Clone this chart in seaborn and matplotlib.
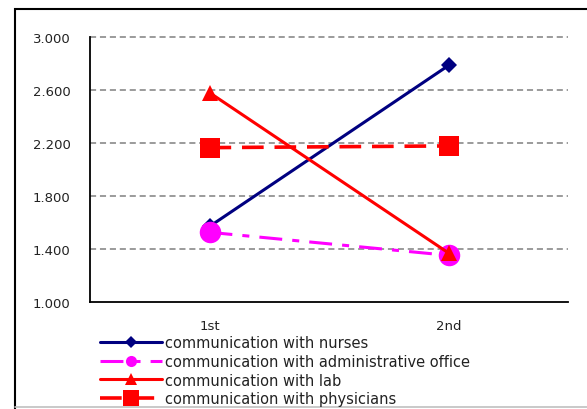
import matplotlib
matplotlib.use("Agg")
import matplotlib.pyplot as plt
import pandas as pd
import seaborn as sns
from matplotlib.lines import Line2D
from matplotlib.patches import Rectangle

# Data
rounds = ["1st", "2nd"]
nurses = [1.57, 2.785]
admin_office = [1.526, 1.352]
lab = [2.58, 1.37]
physicians = [2.165, 2.178]
series_names = [
    "communication with nurses",
    "communication with administrative office",
    "communication with lab",
    "communication with physicians",
]
y_ticks = [1.0, 1.4, 1.8, 2.2, 2.6, 3.0]
y_tick_labels = ["1.000", "1.400", "1.800", "2.200", "2.600", "3.000"]

df = pd.DataFrame({"round": rounds * 4,
                   "value": nurses + admin_office + lab + physicians,
                   "series": [s for s in series_names for _ in rounds]})

sns.set_style("white")
plt.rcParams["font.family"] = ["DejaVu Sans"]

fig = plt.figure(figsize=(5.87, 4.10), dpi=100)
ax = fig.add_axes([90 / 587, 1 - 303 / 410, 478 / 587, 265 / 410])

# colour, dashes, marker, marker size (plot), marker size (legend), line width
styles = {
    series_names[0]: ("#000080", "-", "D", 8.5, 6, 2.2),
    series_names[1]: ("#FF00FF", (0, (7.5, 3.3, 2.3, 3.3)), "o", 15.5, 8, 2.2),
    series_names[2]: ("#FF0000", "-", "^", 11, 8, 2.2),
    series_names[3]: ("#FF0000", (0, (6, 3)), "s", 15, 12, 2.6),
}

handles = []
for name in series_names:
    color, ls, mk, ms, lms, lw = styles[name]
    sub = df[df["series"] == name]
    sns.lineplot(data=sub, x="round", y="value", ax=ax, color=color,
                 linestyle=ls, marker=mk, markersize=ms, linewidth=lw,
                 markeredgewidth=0, legend=False, sort=False)
    handles.append(Line2D([0], [0], color=color, linestyle=ls, marker=mk,
                          markersize=lms, linewidth=lw, markeredgewidth=0))

ax.set_xlim(-0.5, 1.5)
ax.set_ylim(1.0, 3.0)
ax.set_yticks(y_ticks)
ax.set_yticklabels(y_tick_labels)
ax.set_xticks([0, 1])
ax.set_xticks([-0.5, 0.5, 1.5], minor=True)
ax.tick_params(axis="x", which="major", length=0, pad=12, labelsize=9.5, labelcolor="#222222")
ax.tick_params(axis="x", which="minor", length=4, width=1, direction="out", color="black")
ax.tick_params(axis="y", length=0, pad=14, labelsize=9.5, labelcolor="#222222")
ax.set_xlabel("")
ax.set_ylabel("")

for y in y_ticks[1:]:
    ax.axhline(y, color="#808080", linestyle=(0, (4, 2.5)), linewidth=1.1,
               zorder=0, clip_on=False)

for side in ["top", "right"]:
    ax.spines[side].set_visible(False)
for side in ["left", "bottom"]:
    ax.spines[side].set_color("black")
    ax.spines[side].set_linewidth(1.3)

fig.legend(handles, series_names, loc="upper left",
           bbox_to_anchor=(100 / 587, 1 - 336 / 410), frameon=False,
           fontsize=10.5, handlelength=4.25, handletextpad=0.2,
           labelspacing=0.26, borderpad=0, borderaxespad=0, labelcolor="#222222")

# outer chart-area frame
fig.patches.append(Rectangle((15 / 587, -0.01), 1.0, 1 - 10 / 410 + 0.01,
                             transform=fig.transFigure, fill=False,
                             edgecolor="black", linewidth=1.5))
fig.add_artist(Line2D([15 / 587, 1], [2 / 410, 2 / 410], transform=fig.transFigure,
                      color="#c0c0c0", linewidth=1.2))

fig.savefig("out.png", dpi=100)
